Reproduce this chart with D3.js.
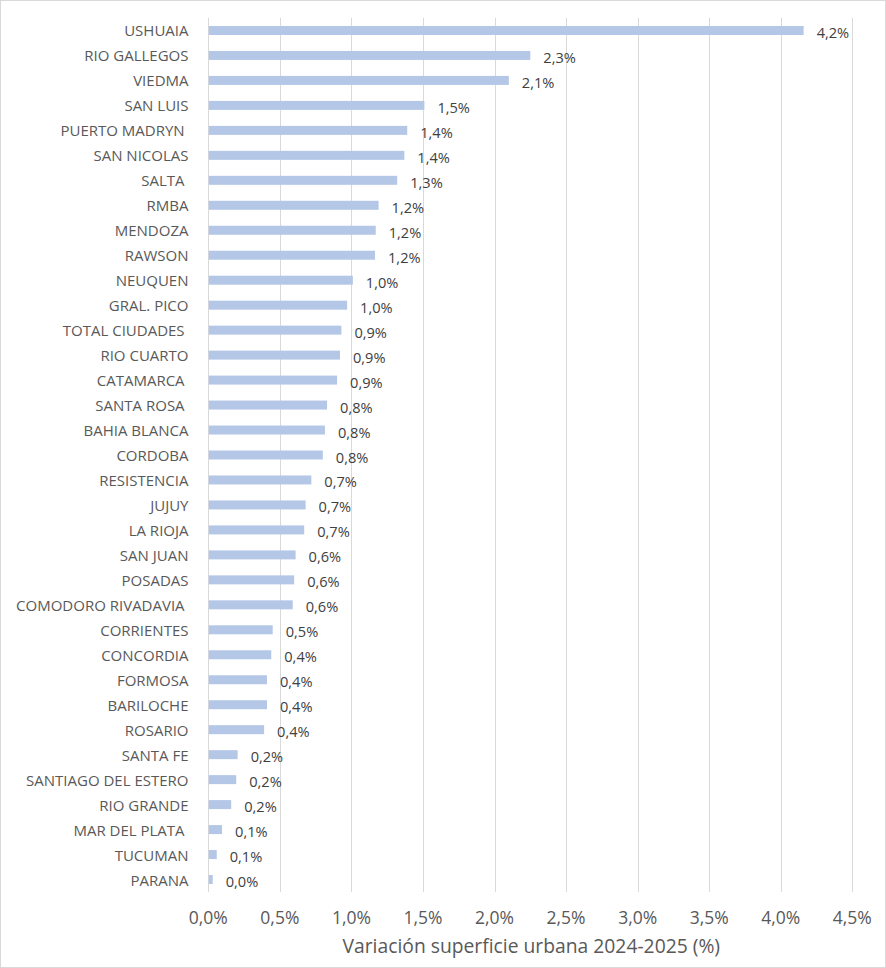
<!DOCTYPE html>
<html>
<head>
<meta charset="utf-8">
<script src="https://cdn.jsdelivr.net/npm/d3@7"></script>
<style>
  html, body { margin: 0; padding: 0; background: #fff; }
  svg text { white-space: pre; }
</style>
</head>
<body>
<svg id="chart" width="886" height="968"></svg>
<script>
const categories = ["USHUAIA","RIO GALLEGOS","VIEDMA","SAN LUIS","PUERTO MADRYN ","SAN NICOLAS","SALTA ","RMBA","MENDOZA","RAWSON","NEUQUEN","GRAL. PICO","TOTAL CIUDADES ","RIO CUARTO","CATAMARCA ","SANTA ROSA ","BAHIA BLANCA","CORDOBA","RESISTENCIA","JUJUY","LA RIOJA","SAN JUAN","POSADAS","COMODORO RIVADAVIA ","CORRIENTES","CONCORDIA","FORMOSA","BARILOCHE","ROSARIO","SANTA FE","SANTIAGO DEL ESTERO","RIO GRANDE","MAR DEL PLATA ","TUCUMAN","PARANA"];
const values = [4.16,2.25,2.10,1.51,1.39,1.37,1.32,1.19,1.17,1.165,1.01,0.97,0.93,0.92,0.90,0.83,0.815,0.80,0.72,0.68,0.67,0.61,0.60,0.59,0.45,0.44,0.41,0.41,0.39,0.205,0.195,0.16,0.096,0.059,0.031];
const valueLabels = ["4,2%","2,3%","2,1%","1,5%","1,4%","1,4%","1,3%","1,2%","1,2%","1,2%","1,0%","1,0%","0,9%","0,9%","0,9%","0,8%","0,8%","0,8%","0,7%","0,7%","0,7%","0,6%","0,6%","0,6%","0,5%","0,4%","0,4%","0,4%","0,4%","0,2%","0,2%","0,2%","0,1%","0,1%","0,0%"];
const ticks = [0,0.5,1.0,1.5,2.0,2.5,3.0,3.5,4.0,4.5];
const tickLabels = ["0,0%","0,5%","1,0%","1,5%","2,0%","2,5%","3,0%","3,5%","4,0%","4,5%"];
const axisTitle = "Variación superficie urbana 2024-2025 (%)";

const FONT = "'Open Sans', 'Noto Sans', sans-serif";
const svg = d3.select("#chart");

svg.append("rect").attr("x",0.5).attr("y",0.5).attr("width",885).attr("height",967)
  .attr("fill","#fff").attr("stroke","#d9d9d9");

const x = d3.scaleLinear().domain([0,4.5]).range([208.3,852.3]);
const y = d3.scaleBand().domain(categories).range([18,892]).paddingInner(0.64).paddingOuter(0.32);

// gridlines
svg.append("g").selectAll("line").data(ticks).join("line")
  .attr("x1", d => Math.round(x(d)) + 0.5).attr("x2", d => Math.round(x(d)) + 0.5)
  .attr("y1", 18).attr("y2", 892)
  .attr("stroke", "#d9d9d9").attr("stroke-width", 1);

// bars
svg.append("g").selectAll("rect").data(values).join("rect")
  .attr("x", x(0) + 0.5)
  .attr("y", (d,i) => y(categories[i]))
  .attr("width", d => x(d) - x(0) - 0.5)
  .attr("height", y.bandwidth())
  .attr("fill", "#b4c7e7");

// data labels
svg.append("g").selectAll("text").data(values).join("text")
  .attr("x", d => x(d) + 13)
  .attr("y", (d,i) => y(categories[i]) + y.bandwidth()/2 + 1.5)
  .attr("dominant-baseline","central")
  .attr("font-family", FONT).attr("font-size", 14.6).attr("fill", "#404040")
  .text((d,i) => valueLabels[i]);

// category labels
svg.append("g").selectAll("text").data(categories).join("text")
  .attr("x", 188.5)
  .attr("y", d => y(d) + y.bandwidth()/2)
  .attr("text-anchor","end").attr("dominant-baseline","central")
  .attr("font-family", FONT).attr("font-size", 15).attr("fill", "#595959")
  .text(d => d);

// tick labels
svg.append("g").selectAll("text").data(ticks).join("text")
  .attr("x", d => x(d))
  .attr("y", 917)
  .attr("text-anchor","middle").attr("dominant-baseline","central")
  .attr("font-family", FONT).attr("font-size", 17.5).attr("fill", "#595959")
  .text((d,i) => tickLabels[i]);

// axis title
svg.append("text")
  .attr("x", (x(0)+x(4.5))/2 + 1).attr("y", 945)
  .attr("text-anchor","middle").attr("dominant-baseline","central")
  .attr("font-family", FONT).attr("font-size", 19.3).attr("fill", "#595959")
  .text(axisTitle);
</script>
</body>
</html>
